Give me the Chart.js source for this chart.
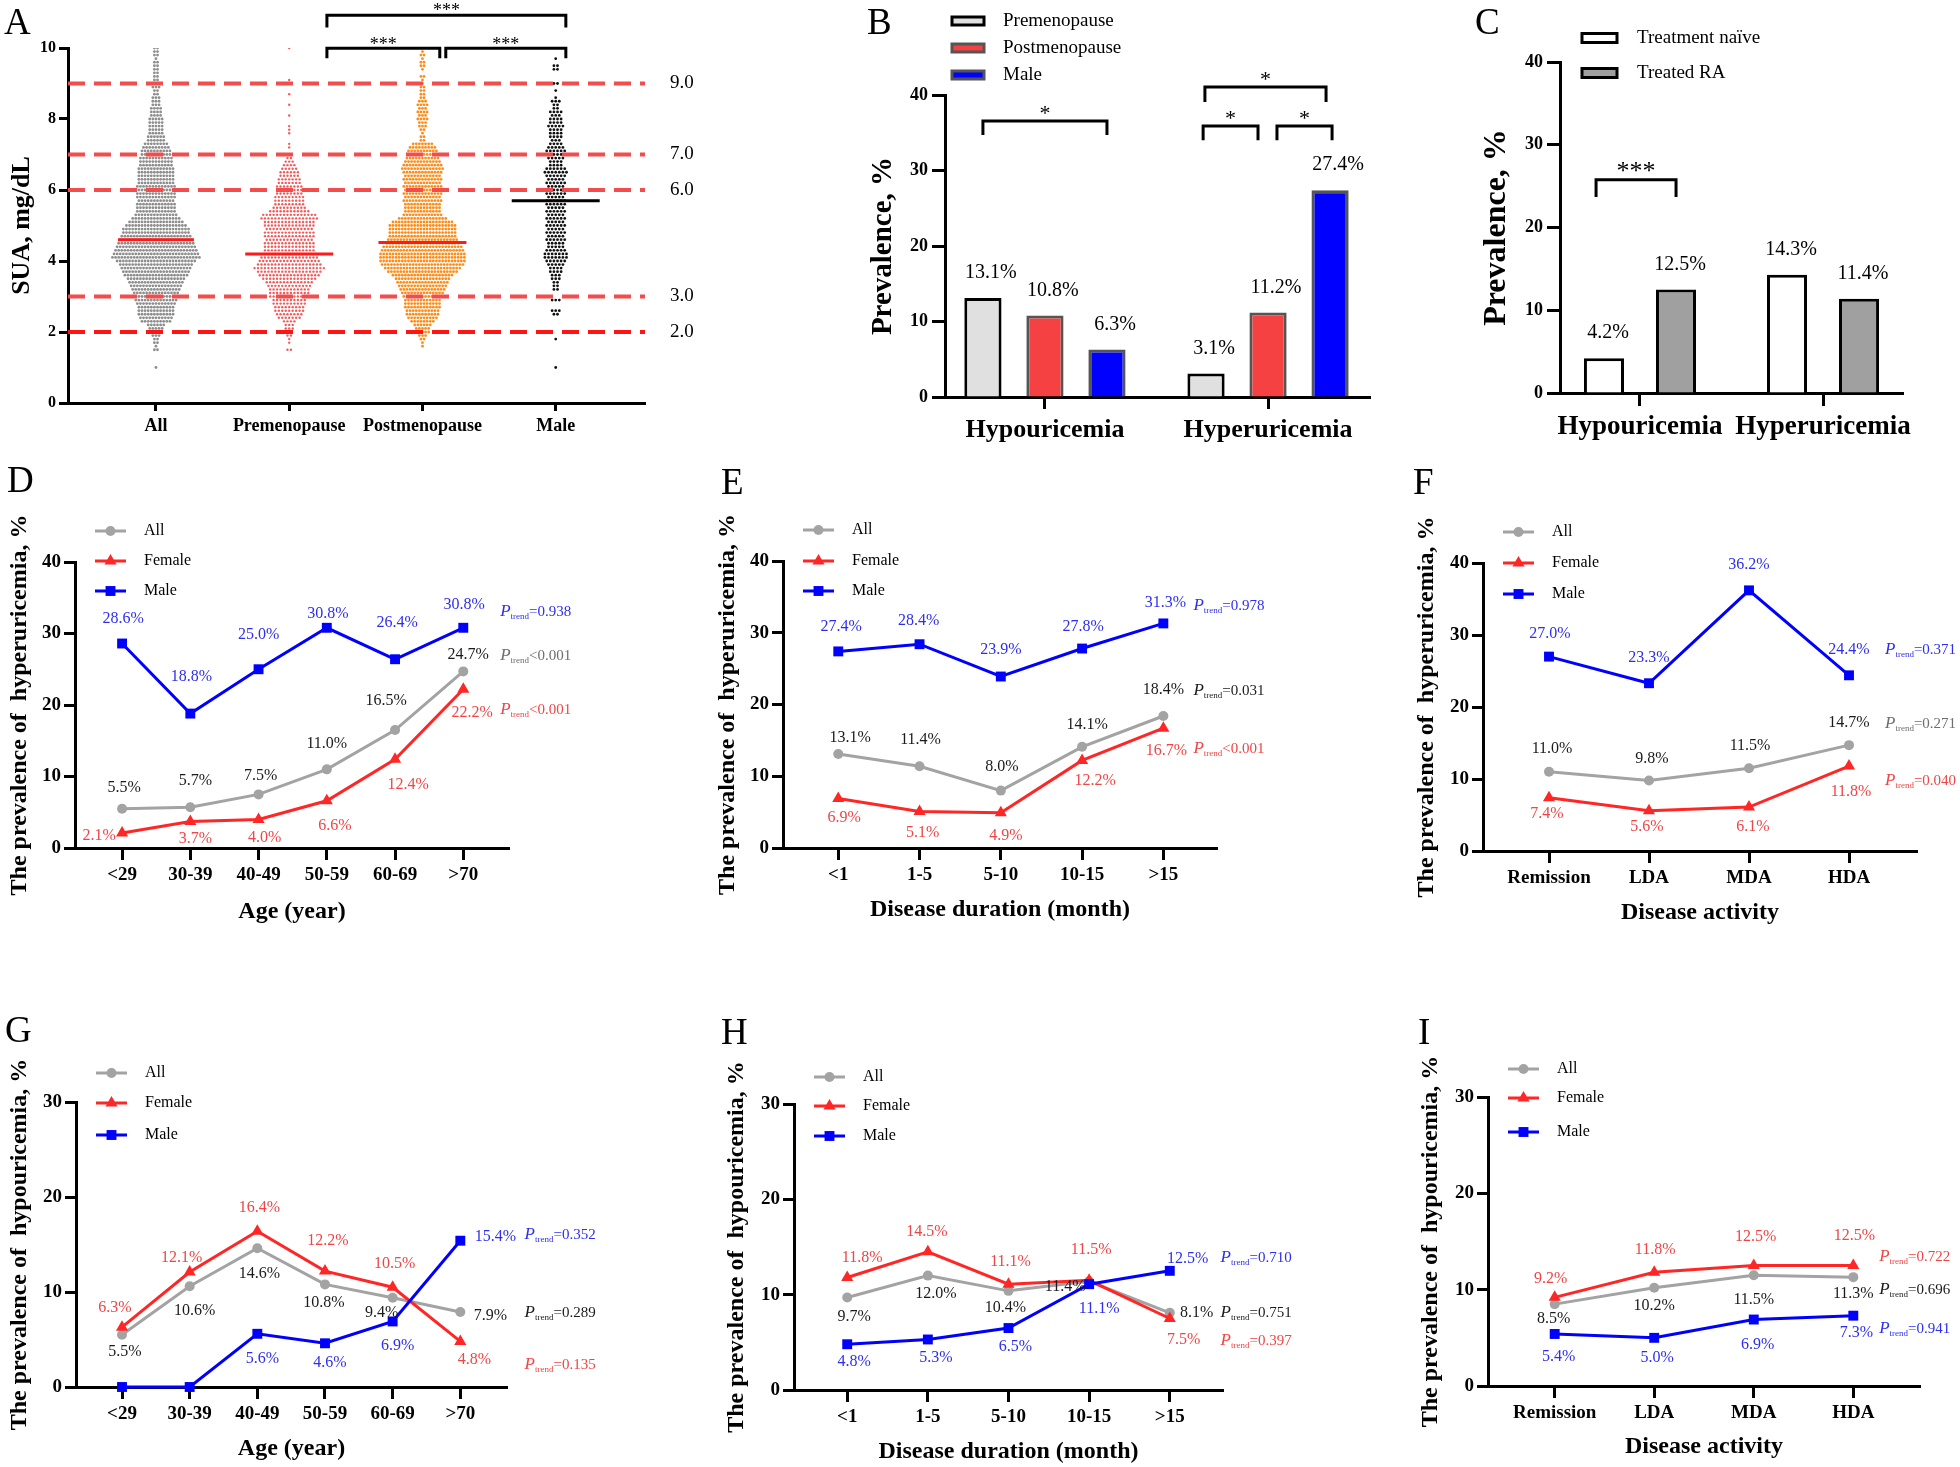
<!DOCTYPE html>
<html>
<head>
<meta charset="utf-8">
<title>Serum uric acid in RA</title>
<script src="https://cdn.jsdelivr.net/npm/chart.js@4.4.1/dist/chart.umd.min.js"></script>
<style>
  body { margin: 0; background: #fff; }
  #page { position: relative; width: 1960px; height: 1467px; overflow: hidden; background: #fff; }
  #page canvas { position: absolute; }
  .tag { position: absolute; font-family: "Liberation Serif", "Times New Roman", serif; font-size: 37px; line-height: 1; color: #000; }
</style>
</head>
<body>
<div id="page"></div>
<script>
// ---------- A: SUA beeswarm, dots per 0.1 mg/dL row, rows 1.0 .. 10.0 ----------
var suaGroups = ['All', 'Premenopause', 'Postmenopause', 'Male'];
var suaRowStart = 1.0;
var suaAll = [
  1,0,0,0,0,2,1,2,2,3,
  4,5,6,10,11,12,12,12,13,14,
  14,15,16,17,18,19,21,22,23,24,
  26,29,28,27,26,25,24,23,22,22,
  20,18,16,14,13,13,13,12,13,13,
  12,13,12,12,12,12,12,11,11,11,
  10,10,9,8,6,6,5,5,5,5,
  5,4,4,4,3,3,3,2,2,3,
  3,2,2,2,2,2,2,1,2,2,
  2];
var suaPre = [
  0,0,0,0,0,2,0,1,1,2,
  2,3,3,4,7,8,9,9,10,10,
  12,12,12,13,14,16,18,19,21,19,
  18,17,16,15,15,15,14,15,15,14,
  15,15,17,16,12,10,9,9,9,8,
  8,8,7,7,6,6,5,4,3,2,
  1,0,1,1,0,0,1,1,1,0,
  0,1,0,0,1,0,0,1,0,0,
  0,1,0,0,0,0,0,0,0,0,
  1];
var suaPost = [
  0,0,0,0,0,0,1,1,2,3,
  5,5,6,8,10,11,11,12,12,12,
  13,14,15,16,17,18,20,23,25,27,
  28,28,28,27,26,24,23,22,22,22,
  22,20,16,13,12,12,12,13,12,13,
  12,13,12,13,12,13,14,13,12,11,
  10,10,9,7,2,2,1,2,3,3,
  4,3,4,3,4,3,2,2,2,2,
  1,1,2,0,1,2,2,1,2,1,
  1];
var suaMale = [
  1,0,0,0,0,0,0,0,1,0,
  0,0,0,0,0,2,3,0,0,3,
  0,0,2,2,2,3,3,4,4,5,
  6,7,7,6,5,5,6,5,6,5,
  6,5,6,5,6,5,6,6,5,6,
  6,5,6,5,6,7,6,4,4,5,
  6,6,5,4,3,4,4,4,5,4,
  4,3,4,2,2,3,1,0,1,0,
  2,0,0,0,2,2,0,1,0,0,
  0];
var suaMedians = [4.6, 4.2, 4.52, 5.7];
var suaCutoffs = [2, 3, 6, 7, 9];

// ---------- B and C: prevalence bars ----------
var prevCats = ['Hypouricemia', 'Hyperuricemia'];
var bPre = [13.1, 3.1];
var bPost = [10.8, 11.2];
var bMale = [6.3, 27.4];
var cNaive = [4.2, 14.3];
var cTreated = [12.5, 11.4];

// ---------- D to I: prevalence by subgroup ----------
var ageGroups = ['<29', '30-39', '40-49', '50-59', '60-69', '>70'];
var durationGroups = ['<1', '1-5', '5-10', '10-15', '>15'];
var activityGroups = ['Remission', 'LDA', 'MDA', 'HDA'];

var hyperAgeAll = [5.5, 5.7, 7.5, 11.0, 16.5, 24.7];
var hyperAgeFemale = [2.1, 3.7, 4.0, 6.6, 12.4, 22.2];
var hyperAgeMale = [28.6, 18.8, 25.0, 30.8, 26.4, 30.8];
var hyperAgeP = ['<0.001', '<0.001', '=0.938'];

var hyperDurAll = [13.1, 11.4, 8.0, 14.1, 18.4];
var hyperDurFemale = [6.9, 5.1, 4.9, 12.2, 16.7];
var hyperDurMale = [27.4, 28.4, 23.9, 27.8, 31.3];
var hyperDurP = ['=0.031', '<0.001', '=0.978'];

var hyperActAll = [11.0, 9.8, 11.5, 14.7];
var hyperActFemale = [7.4, 5.6, 6.1, 11.8];
var hyperActMale = [27.0, 23.3, 36.2, 24.4];
var hyperActP = ['=0.271', '=0.040', '=0.371'];

var hypoAgeAll = [5.5, 10.6, 14.6, 10.8, 9.4, 7.9];
var hypoAgeFemale = [6.3, 12.1, 16.4, 12.2, 10.5, 4.8];
var hypoAgeMale = [0, 0, 5.6, 4.6, 6.9, 15.4];
var hypoAgeP = ['=0.289', '=0.135', '=0.352'];

var hypoDurAll = [9.7, 12.0, 10.4, 11.4, 8.1];
var hypoDurFemale = [11.8, 14.5, 11.1, 11.5, 7.5];
var hypoDurMale = [4.8, 5.3, 6.5, 11.1, 12.5];
var hypoDurP = ['=0.751', '=0.397', '=0.710'];

var hypoActAll = [8.5, 10.2, 11.5, 11.3];
var hypoActFemale = [9.2, 11.8, 12.5, 12.5];
var hypoActMale = [5.4, 5.0, 6.9, 7.3];
var hypoActP = ['=0.696', '=0.722', '=0.941'];

// ------------------------------------------------------------------
var SERIF = '"Liberation Serif", "Times New Roman", serif';
Chart.defaults.font.family = SERIF;
Chart.defaults.color = '#000';

var GREY = '#a3a3a3', RED = '#ff2626', BLUE = '#0000ff';
var RED_TXT = '#ef4545', BLUE_TXT = '#2e2ef0', DARK_TXT = '#1a1a1a';

function addCanvas(left, top, w, h) {
  var c = document.createElement('canvas');
  c.width = w; c.height = h;
  c.style.left = left + 'px'; c.style.top = top + 'px';
  c.style.width = w + 'px'; c.style.height = h + 'px';
  document.getElementById('page').appendChild(c);
  return c;
}

function tag(letter, x, y) {
  var d = document.createElement('div');
  d.className = 'tag';
  d.textContent = letter;
  d.style.left = x + 'px'; d.style.top = y + 'px';
  document.getElementById('page').appendChild(d);
}

function baseOptions(padTop, padRight) {
  return {
    responsive: false, animation: false, devicePixelRatio: 1, events: [],
    layout: {padding: {top: padTop, right: padRight, left: 0, bottom: 0}},
    plugins: {legend: {display: false}, tooltip: {enabled: false}}
  };
}

// y axis with fixed width so the plot area lands where it should
function valueAxis(max, step, o) {
  return {
    type: 'linear', min: 0, max: max,
    grid: {drawOnChartArea: false, offset: false, tickLength: o.tick, tickWidth: 3, tickColor: '#000'},
    border: {width: 3, color: '#000'},
    ticks: {stepSize: step, padding: o.pad, color: '#000', font: {size: o.size, weight: 'bold'}},
    title: {display: true, text: o.title, color: '#000', font: {size: o.titleSize, weight: 'bold'},
            padding: {top: o.titlePad, bottom: 0}},
    afterFit: function (s) { s.width = o.width; }
  };
}

// numeric x axis with one tick per group
function groupAxis(labels, lo, hi, o) {
  return {
    type: 'linear', min: lo, max: hi, offset: false,
    grid: {drawOnChartArea: false, offset: false, tickLength: o.tick, tickWidth: 3, tickColor: '#000'},
    border: {width: 3, color: '#000'},
    afterBuildTicks: function (s) { s.ticks = labels.map(function (l, i) { return {value: i}; }); },
    ticks: {autoSkip: false, maxRotation: 0, padding: o.pad, color: '#000', font: {size: o.size, weight: 'bold'},
            callback: function (v) { return labels[v]; }},
    title: o.title ? {display: true, text: o.title, color: '#000', font: {size: o.titleSize, weight: 'bold'},
                      padding: {top: 0, bottom: o.titlePad}} : {display: false},
    afterFit: function (s) { s.height = o.height; }
  };
}

function drawBrackets(chart, list, font) {
  var ctx = chart.ctx, xs = chart.scales.x, ys = chart.scales.y;
  ctx.save();
  ctx.strokeStyle = '#000'; ctx.fillStyle = '#000'; ctx.lineWidth = 3;
  ctx.font = font; ctx.textAlign = 'center'; ctx.textBaseline = 'alphabetic';
  list.forEach(function (b) {
    var x1 = xs.getPixelForValue(b.x1), x2 = xs.getPixelForValue(b.x2);
    var y = ys.getPixelForValue(b.y), y2 = ys.getPixelForValue(b.drop);
    ctx.beginPath();
    ctx.moveTo(x1, y2); ctx.lineTo(x1, y); ctx.lineTo(x2, y); ctx.lineTo(x2, y2);
    ctx.stroke();
    ctx.fillText(b.text, (x1 + x2) / 2, y + b.dy);
  });
  ctx.restore();
}

// ---------------- panel A ----------------
function swarm(rows, centre, gap) {
  var pts = [];
  rows.forEach(function (count, k) {
    var value = Math.round((suaRowStart + k * 0.1) * 10) / 10;
    for (var j = 0; j < count; j++) {
      pts.push({x: centre + (j - (count - 1) / 2) * gap, y: value});
    }
  });
  return pts;
}

(function panelA() {
  var box = [0, 0, 720, 450], area = [68, 48, 645, 403];
  var xLo = -0.66, xHi = 3.67;
  var cv = addCanvas(box[0], box[1], box[2], box[3]);
  var rows = [suaAll, suaPre, suaPost, suaMale];
  var dotColors = ['#8e8e8e', '#f25a5a', '#ff8c1a', '#111111'];
  var dotSizes = [1.4, 1.2, 1.4, 1.4];
  var dotGaps = [0.0233, 0.026, 0.0233, 0.027];
  var datasets = [];

  suaCutoffs.forEach(function (c) {
    datasets.push({type: 'line', data: [{x: xLo, y: c}, {x: xHi, y: c}],
      borderColor: c === 2 ? '#ff1414' : '#f34c4c', borderWidth: 4, borderDash: [17, 9],
      pointRadius: 0, order: 0});
  });
  suaMedians.forEach(function (m, i) {
    var half = i === 0 ? 0.285 : 0.33;
    datasets.push({type: 'line', data: [{x: i - half, y: m}, {x: i + half, y: m}],
      borderColor: i === 3 ? '#000' : '#ff1a1a', borderWidth: 3, pointRadius: 0, order: 0});
  });
  rows.forEach(function (r, i) {
    datasets.push({type: 'scatter', data: swarm(r, i, dotGaps[i]), backgroundColor: dotColors[i],
      borderWidth: 0, pointRadius: dotSizes[i], order: 1});
  });

  var opts = baseOptions(area[1] - box[1], box[0] + box[2] - area[2]);
  opts.scales = {
    x: groupAxis(suaGroups, xLo, xHi, {tick: 8, pad: 5, size: 18, height: box[1] + box[3] - area[3]}),
    y: valueAxis(10, 2, {tick: 9, pad: 3, size: 16, width: area[0] - box[0],
                         title: 'SUA, mg/dL', titleSize: 26, titlePad: 22 - 15.6})
  };

  new Chart(cv, {
    type: 'scatter',
    data: {datasets: datasets},
    options: opts,
    plugins: [{
      id: 'suaNotes',
      afterDraw: function (chart) {
        var ctx = chart.ctx, ys = chart.scales.y;
        ctx.save();
        ctx.fillStyle = '#000'; ctx.font = '19px ' + SERIF;
        ctx.textAlign = 'left'; ctx.textBaseline = 'middle';
        suaCutoffs.forEach(function (c) { ctx.fillText(c.toFixed(1), 670 - box[0], ys.getPixelForValue(c)); });
        ctx.restore();
        drawBrackets(chart, [
          {x1: 1.283, x2: 3.076, y: 10.92, drop: 10.58, text: '***', dy: 1},
          {x1: 1.283, x2: 2.13, y: 9.99, drop: 9.71, text: '***', dy: 2},
          {x1: 2.175, x2: 3.076, y: 9.99, drop: 9.71, text: '***', dy: 2}
        ], '18px ' + SERIF);
      }
    }]
  });
})();

// ---------------- panels B and C ----------------
function barPanel(cfg) {
  var box = cfg.box, area = cfg.area;
  var cv = addCanvas(box[0], box[1], box[2], box[3]);
  var datasets = cfg.series.map(function (s) {
    return {label: s.label, data: s.data.map(function (v, i) { return {x: i, y: v}; }),
      backgroundColor: s.fill, borderColor: s.edge, borderWidth: 3,
      categoryPercentage: cfg.catPct, barPercentage: cfg.barPct};
  });
  var opts = baseOptions(area[1] - box[1], box[0] + box[2] - area[2]);
  opts.scales = {
    x: groupAxis(prevCats, cfg.xRange[0], cfg.xRange[1],
                 {tick: cfg.xTick, pad: cfg.xLabelY - area[3] - cfg.xTick - 0.6 * cfg.xSize,
                  size: cfg.xSize, height: box[1] + box[3] - area[3]}),
    y: valueAxis(40, 10, {tick: 13, pad: 4, size: 18, width: area[0] - box[0],
                          title: 'Prevalence, %', titleSize: cfg.titleSize,
                          titlePad: cfg.yTitleX - box[0] - 0.6 * cfg.titleSize})
  };
  new Chart(cv, {
    type: 'bar',
    data: {datasets: datasets},
    options: opts,
    plugins: [{
      id: 'barNotes',
      afterDraw: function (chart) {
        var ctx = chart.ctx;
        ctx.save();
        ctx.font = '20px ' + SERIF; ctx.fillStyle = '#000';
        ctx.textAlign = 'center'; ctx.textBaseline = 'middle';
        cfg.series.forEach(function (s, di) {
          chart.getDatasetMeta(di).data.forEach(function (bar, i) {
            ctx.fillText(s.data[i].toFixed(1) + '%', bar.x + cfg.labelDx, bar.y - 25);
          });
        });
        // legend
        var lg = cfg.legend;
        ctx.font = '19px ' + SERIF; ctx.textAlign = 'left';
        cfg.series.forEach(function (s, k) {
          var y = lg.rows[k] - box[1];
          var x = lg.x - box[0];
          ctx.fillStyle = s.fill;
          ctx.fillRect(x, y - lg.h / 2, lg.w, lg.h);
          ctx.strokeStyle = s.edge; ctx.lineWidth = 3;
          ctx.strokeRect(x, y - lg.h / 2, lg.w, lg.h);
          ctx.fillStyle = '#000';
          ctx.fillText(s.label, lg.tx - box[0], y);
        });
        ctx.restore();
        drawBrackets(chart, cfg.brackets, cfg.starFont);
      }
    }]
  });
}

barPanel({
  box: [860, 0, 520, 450], area: [945, 95, 1370, 397],
  xRange: [-0.448, 1.457], catPct: 0.834, barPct: 0.6,
  xTick: 12, xLabelY: 430, xSize: 26, titleSize: 29, yTitleX: 884, labelDx: 8,
  series: [
    {label: 'Premenopause', data: bPre, fill: '#e0e0e0', edge: '#000'},
    {label: 'Postmenopause', data: bPost, fill: '#f54141', edge: '#555'},
    {label: 'Male', data: bMale, fill: '#0000ff', edge: '#555'}
  ],
  legend: {x: 952, w: 32, h: 8, tx: 1003, rows: [21, 48, 75]},
  starFont: '22px ' + SERIF,
  brackets: [
    {x1: -0.278, x2: 0.278, y: 36.56, drop: 34.7, text: '*', dy: -1},
    {x1: 0.717, x2: 1.26, y: 41.06, drop: 39.07, text: '*', dy: -1},
    {x1: 0.709, x2: 0.955, y: 35.9, drop: 34.0, text: '*', dy: -1},
    {x1: 1.04, x2: 1.287, y: 35.9, drop: 34.0, text: '*', dy: -1}
  ]
});

barPanel({
  box: [1460, 0, 500, 450], area: [1560, 62, 1903, 393],
  xRange: [-0.437, 1.437], catPct: 0.787, barPct: 0.556,
  xTick: 13, xLabelY: 427, xSize: 27, titleSize: 32, yTitleX: 1497, labelDx: 4,
  series: [
    {label: 'Treatment na\u00efve', data: cNaive, fill: '#ffffff', edge: '#000'},
    {label: 'Treated RA', data: cTreated, fill: '#a0a0a0', edge: '#000'}
  ],
  legend: {x: 1582, w: 35, h: 9, tx: 1637, rows: [38, 73]},
  starFont: '26px ' + SERIF,
  brackets: [
    {x1: -0.24, x2: 0.197, y: 25.76, drop: 23.7, text: '***', dy: -1}
  ]
});

// ---------------- panels D to I ----------------
function ptrend(ctx, x, y, rest, color) {
  var base = y + 5;
  ctx.fillStyle = color; ctx.textAlign = 'left'; ctx.textBaseline = 'alphabetic';
  ctx.font = 'italic 17px ' + SERIF; ctx.fillText('P', x, base); x += ctx.measureText('P').width;
  ctx.font = '9px ' + SERIF; ctx.fillText('trend', x, base + 3); x += ctx.measureText('trend').width;
  ctx.font = '15px ' + SERIF; ctx.fillText(rest, x, base);
}

function linePanel(cfg) {
  var box = cfg.box, area = cfg.area;
  var cv = addCanvas(box[0], box[1], box[2], box[3]);
  var series = [
    {key: 'male', name: 'Male', data: cfg.male, color: BLUE, txt: BLUE_TXT, style: 'rect', r: 7, p: cfg.p[2], pColor: BLUE_TXT},
    {key: 'female', name: 'Female', data: cfg.female, color: RED, txt: RED_TXT, style: 'triangle', r: 7, p: cfg.p[1], pColor: RED_TXT},
    {key: 'all', name: 'All', data: cfg.all, color: GREY, txt: DARK_TXT, style: 'circle', r: 5, p: cfg.p[0], pColor: cfg.pAllColor}
  ];
  var datasets = series.map(function (s, k) {
    return {label: s.name, data: s.data.map(function (v, i) { return {x: i, y: v}; }),
      borderColor: s.color, borderWidth: 3, tension: 0, fill: false, clip: false,
      pointStyle: s.style, pointRadius: s.r, pointBackgroundColor: s.color, pointBorderWidth: 0, order: k};
  });
  var titleSize = 24, xTitleSize = 24, tickSize = 19;
  var opts = baseOptions(area[1] - box[1], box[0] + box[2] - area[2]);
  opts.scales = {
    x: groupAxis(cfg.cats, cfg.xRange[0], cfg.xRange[1], {
      tick: 12, pad: cfg.xTickY - area[3] - 12 - 0.6 * tickSize, size: tickSize,
      height: box[1] + box[3] - area[3],
      title: cfg.xTitle, titleSize: xTitleSize,
      titlePad: box[1] + box[3] - cfg.xTitleY - 0.6 * xTitleSize}),
    y: valueAxis(cfg.yMax, 10, {tick: 11, pad: 3, size: tickSize, width: area[0] - box[0],
      title: cfg.yTitle, titleSize: titleSize, titlePad: cfg.yTitleX - box[0] - 0.6 * titleSize})
  };
  new Chart(cv, {
    type: 'line',
    data: {datasets: datasets},
    options: opts,
    plugins: [{
      id: 'lineNotes',
      afterDraw: function (chart) {
        var ctx = chart.ctx, xs = chart.scales.x, ys = chart.scales.y, ca = chart.chartArea;
        ctx.save();
        ctx.font = '16px ' + SERIF; ctx.textAlign = 'center'; ctx.textBaseline = 'middle';
        series.forEach(function (s, di) {
          chart.getDatasetMeta(di).data.forEach(function (pt, i) {
            var off = cfg.offsets[s.key][i];
            if (!off) return;
            ctx.fillStyle = s.txt;
            ctx.fillText(s.data[i].toFixed(1) + '%', pt.x + off[0], pt.y + off[1]);
          });
        });
        series.forEach(function (s) {
          ptrend(ctx, xs.getPixelForValue(cfg.pX), ys.getPixelForValue(cfg.pY[s.key]), s.p, s.pColor);
        });
        // legend: All, Female, Male
        series.slice().reverse().forEach(function (s, k) {
          var ly = ca.top + cfg.legendRows[k];
          ctx.strokeStyle = s.color; ctx.lineWidth = 3;
          ctx.beginPath(); ctx.moveTo(ca.left + 20, ly); ctx.lineTo(ca.left + 51, ly); ctx.stroke();
          ctx.fillStyle = s.color;
          Chart.helpers.drawPoint(ctx, {pointStyle: s.style, radius: s.r, rotation: 0, borderWidth: 0}, ca.left + 35.5, ly);
          ctx.fillStyle = '#000'; ctx.font = '16px ' + SERIF;
          ctx.textAlign = 'left'; ctx.textBaseline = 'middle';
          ctx.fillText(s.name, ca.left + 69, ly);
        });
        ctx.restore();
      }
    }]
  });
}

var hyperTitle = 'The prevalence of  hyperuricemia, %';
var hypoTitle = 'The prevalence of  hypouricemia, %';

linePanel({
  box: [0, 460, 712, 470], area: [75, 562, 509, 848], xRange: [-0.69, 5.67],
  cats: ageGroups, all: hyperAgeAll, female: hyperAgeFemale, male: hyperAgeMale, p: hyperAgeP,
  yMax: 40, yTitle: hyperTitle, xTitle: 'Age (year)', yTitleX: 20, xTitleY: 912, xTickY: 875,
  legendRows: [-31, -1, 29], pX: 5.54, pY: {male: 33.1, all: 27.0, female: 19.4}, pAllColor: '#6e6e6e',
  offsets: {
    all: [[2, -21], [5, -26], [2, -19], [0, -26], [-9, -29], [5, -17]],
    female: [[-23, 3], [5, 17], [6, 18], [8, 25], [13, 25], [9, 24]],
    male: [[1, -25], [1, -37], [0, -34], [1, -14], [2, -36], [1, -23]]
  }
});

linePanel({
  box: [712, 460, 700, 470], area: [783, 561, 1217, 848], xRange: [-0.68, 4.66],
  cats: durationGroups, all: hyperDurAll, female: hyperDurFemale, male: hyperDurMale, p: hyperDurP,
  yMax: 40, yTitle: hyperTitle, xTitle: 'Disease duration (month)', yTitleX: 728, xTitleY: 910, xTickY: 875,
  legendRows: [-31, 0, 30], pX: 4.37, pY: {male: 33.9, all: 22.0, female: 14.0}, pAllColor: DARK_TXT,
  offsets: {
    all: [[12, -16], [1, -26], [1, -24], [5, -22], [0, -26]],
    female: [[6, 19], [3, 21], [5, 23], [13, 20], [3, 23]],
    male: [[3, -25], [-1, -23], [0, -27], [1, -22], [2, -21]]
  }
});

linePanel({
  box: [1400, 460, 560, 470], area: [1483, 563, 1917, 851], xRange: [-0.66, 3.68],
  cats: activityGroups, all: hyperActAll, female: hyperActFemale, male: hyperActMale, p: hyperActP,
  yMax: 40, yTitle: hyperTitle, xTitle: 'Disease activity', yTitleX: 1427, xTitleY: 913, xTickY: 878,
  legendRows: [-31, 0, 31], pX: 3.36, pY: {male: 28.1, all: 17.8, female: 9.9}, pAllColor: '#6e6e6e',
  offsets: {
    all: [[3, -23], [3, -22], [1, -22], [0, -22]],
    female: [[-2, 16], [-2, 16], [4, 20], [2, 26]],
    male: [[1, -23], [0, -25], [0, -26], [0, -26]]
  }
});

linePanel({
  box: [0, 1010, 712, 457], area: [76, 1102, 507, 1387], xRange: [-0.68, 5.69],
  cats: ageGroups, all: hypoAgeAll, female: hypoAgeFemale, male: hypoAgeMale, p: hypoAgeP,
  yMax: 30, yTitle: hypoTitle, xTitle: 'Age (year)', yTitleX: 20, xTitleY: 1449, xTickY: 1414,
  legendRows: [-29, 1, 33], pX: 5.95, pY: {male: 16.1, all: 7.9, female: 2.4}, pAllColor: DARK_TXT,
  offsets: {
    all: [[3, 17], [5, 24], [2, 25], [-1, 18], [-11, 15], [30, 4]],
    female: [[-7, -19], [-8, -14], [2, -23], [3, -30], [2, -23], [14, 18]],
    male: [null, null, [5, 25], [5, 19], [5, 24], [35, -4]]
  }
});

linePanel({
  box: [712, 1010, 700, 457], area: [794, 1104, 1223, 1390], xRange: [-0.66, 4.66],
  cats: durationGroups, all: hypoDurAll, female: hypoDurFemale, male: hypoDurMale, p: hypoDurP,
  yMax: 30, yTitle: hypoTitle, xTitle: 'Disease duration (month)', yTitleX: 737, xTitleY: 1452, xTickY: 1417,
  legendRows: [-27, 2, 32], pX: 4.63, pY: {male: 14.0, all: 8.2, female: 5.2}, pAllColor: DARK_TXT,
  offsets: {
    all: [[7, 19], [8, 18], [-3, 17], [-24, 5], [27, 0]],
    female: [[15, -20], [-1, -20], [2, -22], [2, -31], [14, 21]],
    male: [[7, 18], [8, 18], [7, 19], [10, 25], [18, -12]]
  }
});

linePanel({
  box: [1400, 1010, 560, 457], area: [1488, 1097, 1920, 1386], xRange: [-0.67, 3.67],
  cats: activityGroups, all: hypoActAll, female: hypoActFemale, male: hypoActMale, p: hypoActP,
  yMax: 30, yTitle: hypoTitle, xTitle: 'Disease activity', yTitleX: 1431, xTitleY: 1447, xTickY: 1413,
  legendRows: [-28, 1, 35], pX: 3.26, pY: {female: 13.5, all: 10.1, male: 6.0}, pAllColor: DARK_TXT,
  offsets: {
    all: [[-1, 15], [0, 18], [0, 25], [0, 17]],
    female: [[-4, -19], [1, -23], [2, -29], [1, -30]],
    male: [[4, 23], [3, 20], [4, 25], [3, 17]]
  }
});

// panel letters
tag('A', 4, 3); tag('B', 867, 3); tag('C', 1475, 3);
tag('D', 7, 461); tag('E', 721, 463); tag('F', 1413, 463);
tag('G', 5, 1011); tag('H', 721, 1013); tag('I', 1418, 1013);
</script>
</body>
</html>
